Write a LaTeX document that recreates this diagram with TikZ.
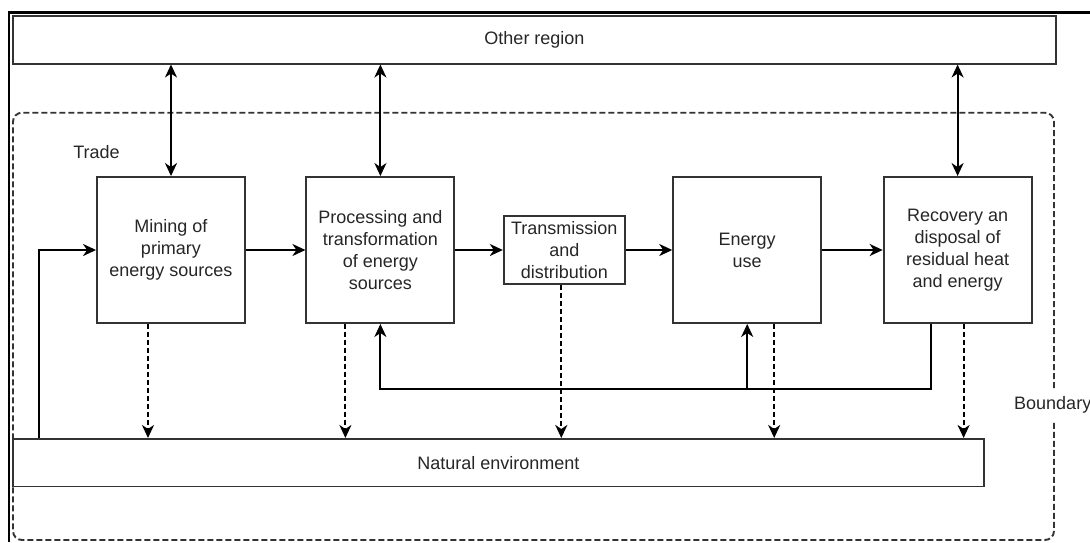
\documentclass[tikz,border=0pt]{standalone}
\usepackage{fontspec}
\setmainfont{Liberation Sans}
\usepackage{tikz}
\usetikzlibrary{arrows.meta,positioning}

\begin{document}
\begin{tikzpicture}[
    x=1pt, y=-1pt,
    font=\fontsize{18}{22}\selectfont,
    every node/.style={text=black!85},
    box/.style={draw=black!80, line width=1.9pt, align=center, inner sep=2pt,
                minimum width=148pt, minimum height=146pt},
    wide/.style={box, minimum height=47.5pt},
    smallbox/.style={box, minimum width=121pt, minimum height=68pt},
    lbl/.style={inner sep=0pt},
    arr/.style={-{Stealth[length=13pt, width=12pt, inset=4pt]}, line width=2pt},
    twoway/.style={arr, {Stealth[length=13pt, width=12pt, inset=4pt]}-{Stealth[length=13pt, width=12pt, inset=4pt]}},
    dasharr/.style={arr, line width=2pt, dash pattern=on 5pt off 3pt},
    bound/.style={draw=black!80, line width=1.9pt, dash pattern=on 6pt off 3pt,
                  rounded corners=9pt}]
    \useasboundingbox (0,0) rectangle (1090,542);
    % outer frame
    \draw[line width=2.6pt] (9,542) -- (9,12.7) -- (1090,12.7);
    \node[wide, minimum width=1043pt] (region) at (534.5,39.8) {Other region};
    \node[wide, minimum width=971pt] (nature) at (498.5,462.7) {Natural environment};
    \node[box] (mining) at (171,250) {Mining of\\ primary\\ energy sources};
    \node[box, right=59.5pt of mining] (proc) {Processing and\\ transformation\\ of energy\\ sources};
    \node[smallbox, right=47.5pt of proc] (trans) {Transmission\\ and\\ distribution};
    \node[box, right=46.5pt of trans] (use) {Energy\\ use};
    \node[box, right=60.5pt of use] (recov) {Recovery an\\ disposal of\\ residual heat\\ and energy};
    \node[lbl] (trade) at (96.5,152) {Trade};
    \node[lbl, anchor=west] (bdry) at (1014,405) {Boundary};
    % system boundary, open where its label sits
    \draw[bound] (1054,388) -- (1054,112.7) -- (13,112.7) -- (13,540)
          -- (1054,540) -- (1054,422);
    % trade with the other region
    \draw[twoway] (region.south -| mining.north) -- (mining.north);
    \draw[twoway] (region.south -| proc.north) -- (proc.north);
    \draw[twoway] (region.south -| recov.north) -- (recov.north);
    % main chain
    \draw[arr] (mining) -- (proc);
    \draw[arr] (proc) -- (trans);
    \draw[arr] (trans) -- (use);
    \draw[arr] (use) -- (recov);
    % releases to the environment
    \coordinate (m1) at ([xshift=-23pt]mining.south);
    \coordinate (p1) at ([xshift=-35pt]proc.south);
    \coordinate (t1) at ([xshift=-3pt]trans.south);
    \coordinate (u1) at ([xshift=27pt]use.south);
    \coordinate (r1) at ([xshift=6pt]recov.south);
    \draw[dasharr] (m1) -- (m1 |- nature.north);
    \draw[dasharr] (p1) -- (p1 |- nature.north);
    \draw[dasharr] (t1) -- (t1 |- nature.north);
    \draw[dasharr] (u1) -- (u1 |- nature.north);
    \draw[dasharr] (r1) -- (r1 |- nature.north);
    % recovered heat and energy fed back
    \coordinate (r2) at ([xshift=-27pt]recov.south);
    \coordinate (fb) at (0,389);
    \draw[arr] (r2) |- (proc.south |- fb) -- (proc.south);
    \draw[arr] (use.south |- fb) -- (use.south);
    % primary resources taken from nature
    \coordinate (ret) at (39,0);
    \draw[arr] (nature.north -| ret) |- (mining.west);
\end{tikzpicture}
\end{document}
